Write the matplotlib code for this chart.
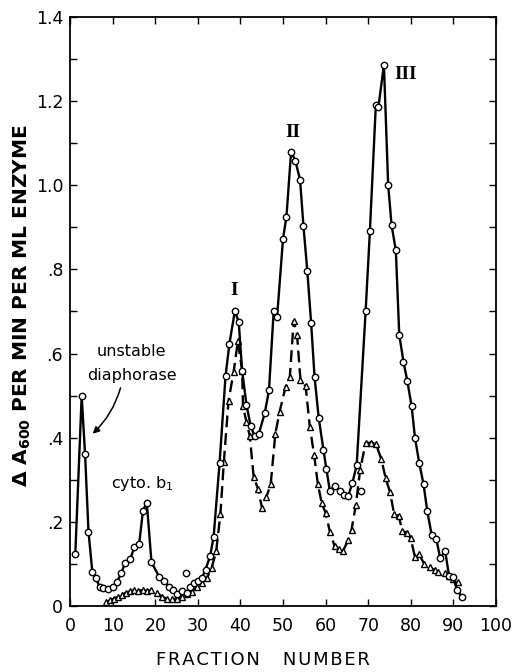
"""Fraction profile: diaphorase activity (circles) vs second assay (triangles)."""

import matplotlib
matplotlib.use("Agg")
import matplotlib.pyplot as plt
from matplotlib.ticker import MultipleLocator

# circle series (solid line)
circle_x = [1.2, 2.7, 3.5, 4.3, 5.2, 6.0, 6.9, 7.8, 8.9, 10.0, 11.0, 12.0, 12.9, 14.1,
            15.1, 16.2, 17.1, 18.0, 19.1, 20.9, 22.1, 23.1, 24.2, 25.2, 26.2, 27.4, 28.2,
            29.0, 30.0, 31.0, 31.8, 32.9, 33.7, 35.1, 36.5, 37.4, 38.7, 39.6, 40.4, 41.4,
            42.4, 43.3, 44.3, 45.7, 46.7, 47.8, 48.6, 50.0, 50.8, 51.9, 52.9, 54.0, 54.8,
            55.7, 56.6, 57.4, 58.4, 59.5, 60.2, 61.0, 62.1, 63.3, 64.3, 65.3, 66.3, 67.3,
            69.4, 70.4, 71.8, 72.4, 73.7, 74.7, 75.5, 76.5, 77.3, 78.3, 79.2, 80.2, 81.0,
            82.0, 83.0, 83.9, 84.9, 86.0, 86.9, 88.1, 89.0, 89.9, 90.9, 92.0]
circle_y = [0.123, 0.499, 0.361, 0.177, 0.082, 0.068, 0.046, 0.042, 0.040, 0.046, 0.058,
            0.078, 0.103, 0.111, 0.141, 0.147, 0.227, 0.246, 0.104, 0.070, 0.060, 0.046,
            0.038, 0.030, 0.035, 0.032, 0.045, 0.054, 0.060, 0.068, 0.087, 0.120, 0.165,
            0.341, 0.547, 0.623, 0.702, 0.674, 0.559, 0.479, 0.428, 0.404, 0.409, 0.458,
            0.513, 0.700, 0.686, 0.873, 0.925, 1.080, 1.058, 1.013, 0.903, 0.797, 0.673,
            0.545, 0.446, 0.371, 0.325, 0.274, 0.285, 0.274, 0.264, 0.261, 0.293, 0.335,
            0.700, 0.890, 1.190, 1.185, 1.286, 1.000, 0.905, 0.845, 0.645, 0.580, 0.535,
            0.475, 0.400, 0.340, 0.290, 0.225, 0.170, 0.160, 0.115, 0.130, 0.072, 0.070,
            0.038, 0.022]

# circles off the drawn curve
stray_x = [27.1, 68.2]
stray_y = [0.078, 0.274]

# triangle series (dashed line)
tri_x = [8.5, 9.4, 10.3, 11.2, 12.1, 13.1, 14.1, 15.1, 16.0, 17.0, 18.0, 19.1, 20.4, 21.6,
         22.7, 23.9, 25.1, 26.3, 27.5, 28.6, 29.8, 31.0, 32.2, 33.2, 34.3, 35.3, 36.1,
         37.2, 38.4, 39.4, 40.4, 40.6, 41.4, 42.2, 43.1, 44.1, 45.1, 46.1, 47.1, 48.2,
         49.2, 50.6, 51.6, 52.5, 53.3, 54.1, 55.3, 56.3, 57.3, 58.2, 59.1, 60.0, 61.0,
         62.1, 63.1, 64.1, 65.3, 66.1, 67.1, 68.1, 69.4, 70.6, 71.8, 73.1, 74.1, 75.1,
         76.1, 77.2, 78.0, 79.1, 80.0, 81.0, 81.9, 83.2, 84.5, 85.7, 86.5, 88.0, 88.9,
         90.0, 91.0]
tri_y = [0.010, 0.014, 0.018, 0.022, 0.027, 0.032, 0.035, 0.038, 0.037, 0.038, 0.036,
         0.038, 0.032, 0.022, 0.018, 0.016, 0.018, 0.021, 0.028, 0.034, 0.046, 0.055,
         0.068, 0.090, 0.130, 0.220, 0.343, 0.488, 0.557, 0.630, 0.559, 0.475, 0.438,
         0.404, 0.307, 0.279, 0.232, 0.260, 0.289, 0.410, 0.462, 0.521, 0.545, 0.677,
         0.644, 0.537, 0.523, 0.426, 0.359, 0.289, 0.244, 0.222, 0.177, 0.143, 0.135,
         0.131, 0.157, 0.182, 0.240, 0.323, 0.388, 0.388, 0.386, 0.349, 0.304, 0.272,
         0.219, 0.214, 0.179, 0.174, 0.161, 0.116, 0.124, 0.100, 0.092, 0.085, 0.082,
         0.078, 0.072, 0.065, 0.058]

x_ticks = [0, 10, 20, 30, 40, 50, 60, 70, 80, 90, 100]
y_ticks = [0, 0.2, 0.4, 0.6, 0.8, 1.0, 1.2, 1.4]
y_tick_labels = ["0", ".2", ".4", ".6", ".8", "1.0", "1.2", "1.4"]

fig = plt.figure(figsize=(5.16, 6.72), dpi=100)
ax = fig.add_axes([0.136, 0.098, 0.825, 0.877])

marker_kw = dict(markersize=4.6, markerfacecolor="white", markeredgecolor="black",
                 markeredgewidth=1.0, color="black")
ax.plot(tri_x, tri_y, linestyle=(0, (5, 2.5)), linewidth=1.7, marker="^", zorder=2, **marker_kw)
ax.plot(circle_x, circle_y, linestyle="-", linewidth=1.7, marker="o", zorder=3, **marker_kw)
ax.plot(stray_x, stray_y, linestyle="none", marker="o", zorder=3, **marker_kw)

ax.set_xlim(0, 100)
ax.set_ylim(0, 1.4)
ax.set_xticks(x_ticks)
ax.set_yticks(y_ticks)
ax.set_yticklabels(y_tick_labels)
ax.yaxis.set_minor_locator(MultipleLocator(0.1))
ax.tick_params(which="both", direction="in", top=True, right=True, labelsize=12.5,
               width=1.0, color="black", length=5)
ax.tick_params(axis="x", pad=8)
ax.tick_params(axis="y", pad=5)
for s in ax.spines.values():
    s.set_linewidth(1.3)

ax.set_ylabel("Δ A$_{\\mathbf{600}}$ PER MIN PER ML ENZYME", fontsize=14.5,
              fontweight="bold")
ax.yaxis.set_label_coords(-0.088, 0.51)
ax.text(0.453, -0.092, "\u200a".join("FRACTION") + "    " + "\u200a".join("NUMBER"),
        transform=ax.transAxes, ha="center", va="center", fontsize=13)

serif = dict(family="Liberation Serif", fontweight="bold", fontsize=14,
             ha="center", va="center")
ax.text(38.4, 0.75, "I", **serif)
ax.text(52.2, 1.125, "II", **serif)
ax.text(78.8, 1.262, "III", **serif)

ax.text(14.4, 0.604, "unstable", ha="center", va="center", fontsize=11.5)
ax.text(14.4, 0.549, "diaphorase", ha="center", va="center", fontsize=11.5)
ax.annotate("", xy=(4.8, 0.405), xytext=(12.0, 0.525),
            arrowprops=dict(arrowstyle="-|>", color="black", lw=1.1,
                            connectionstyle="arc3,rad=-0.15", mutation_scale=10))
ax.text(17.0, 0.292, "cyto. b$_\\mathregular{1}$", ha="center", va="center", fontsize=11.5)

fig.savefig("out.png", dpi=100)
